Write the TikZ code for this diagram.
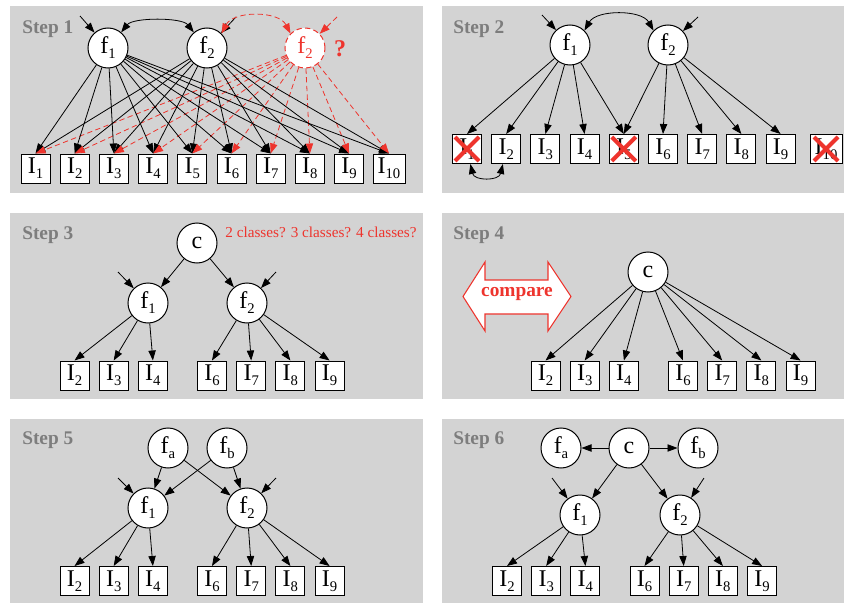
\documentclass[tikz,border=0pt]{standalone}
\usepackage{fontspec}
\setmainfont{Liberation Serif}
\usetikzlibrary{arrows.meta}

\definecolor{panelgray}{RGB}{211,211,211}
\definecolor{stepgray}{RGB}{125,125,125}
\definecolor{markred}{RGB}{238,52,45}

\newcommand{\labfont}{\fontsize{18}{18}\selectfont}
\newcommand{\lowix}[1]{\raisebox{-0.45ex}{\fontsize{11}{11}\selectfont #1}}

\begin{document}
\begin{tikzpicture}[x=0.75pt,y=0.75pt,yscale=-1,xscale=1,
	panel/.style={fill=panelgray},
	steplabel/.style={anchor=west, inner sep=0pt, text=stepgray, font=\fontsize{14.5}{15}\selectfont\bfseries},
	latent/.style={circle, draw, fill=white, line width=0.75pt, minimum size=30pt, inner sep=0pt, font=\labfont},
	ghost/.style={latent, draw=markred, dash pattern=on 4pt off 2.5pt, text=markred},
	item/.style={rectangle, draw, fill=white, line width=0.75pt, minimum size=21.75pt, inner sep=1pt, font=\labfont},
	edge/.style={-{Triangle[length=7.5pt,width=5.5pt]}, line width=0.6pt},
	redge/.style={edge, color=markred, dash pattern=on 4pt off 2.5pt},
	twoway/.style={{Triangle[length=7.5pt,width=5.5pt]}-{Triangle[length=7.5pt,width=5.5pt]}, line width=0.6pt},
	rtwoway/.style={twoway, color=markred, dash pattern=on 4pt off 2.5pt},
	cross/.style={markred, line width=3pt}]
	
	\useasboundingbox (0,0) rectangle (844,603);
	
	%Shape: Step 1 panel
	\fill[panel] (10,6) rectangle (423,193);
	% Text Node
	\node[steplabel] (st1) at (22,29) {Step 1};
	\node[latent] (s1f1) at (108,48) {f\lowix{1}};
	\node[latent] (s1f2) at (207,48) {f\lowix{2}};
	\node[ghost] (s1g) at (305,48) {f\lowix{2}};
	\node[text=markred, font=\fontsize{18}{18}\selectfont\bfseries] (s1q) at (340,49) {?};
	\foreach \k/\xx in {1/35.5,2/74.7,3/113.9,4/153.1,5/192.3,6/231.5,7/270.7,8/309.9,9/349.1}
		\node[item] (s1i\k) at (\xx,168.5) {I\lowix{\k}};
	\node[item, minimum width=24pt] (s1i10) at (389,168.5) {I\lowix{10}};
	\coordinate (s1e1) at (80,16);
	\coordinate (s1e2) at (236,17);
	\coordinate (s1e3) at (337,17);
	%Straight Lines
	\draw[edge] (s1e1) -- (s1f1);
	\draw[edge] (s1e2) -- (s1f2);
	\draw[redge] (s1e3) -- (s1g);
	\draw[twoway] (s1f1.50) .. controls +(12,-15) and +(-12,-15) .. (s1f2.130);
	\draw[rtwoway] (s1f2.45) .. controls +(12,-23) and +(-12,-23) .. (s1g.135);
	\foreach \k in {1,...,10} {
		\draw[edge] (s1f1) -- (s1i\k.north);
		\draw[edge] (s1f2) -- (s1i\k.north);
		\draw[redge] (s1g) -- (s1i\k.north);
	}
	
	%Shape: Step 2 panel
	\fill[panel] (442,6) rectangle (844,193);
	% Text Node
	\node[steplabel] (st2) at (453,29) {Step 2};
	\node[latent] (s2f1) at (570,45) {f\lowix{1}};
	\node[latent] (s2f2) at (668,45) {f\lowix{2}};
	\foreach \k/\xx in {1/467,2/506.2,3/545.4,4/584.6,5/623.8,6/663,7/702.2,8/741.4,9/780.6}
		\node[item] (s2i\k) at (\xx,149) {I\lowix{\k}};
	\node[item, minimum width=24pt] (s2i10) at (826,149) {I\lowix{10}};
	\coordinate (s2e1) at (542,15);
	\coordinate (s2e2) at (698,17);
	%Straight Lines
	\draw[edge] (s2e1) -- (s2f1);
	\draw[edge] (s2e2) -- (s2f2);
	\draw[twoway] (s2f1.45) .. controls +(12,-21) and +(-12,-21) .. (s2f2.135);
	\foreach \k in {1,...,5}
		\draw[edge] (s2f1) -- (s2i\k.north);
	\foreach \k in {5,...,9}
		\draw[edge] (s2f2) -- (s2i\k.north);
	\draw[twoway] ([xshift=2.5pt]s2i1.south) .. controls +(4,17) and +(-4,17) .. ([xshift=-2.5pt]s2i2.south);
	% dropped items
	\foreach \n in {1,5,10} {
		\draw[cross] ([shift={(-12,-12)}]s2i\n.center) -- ([shift={(12,12)}]s2i\n.center);
		\draw[cross] ([shift={(-12,12)}]s2i\n.center) -- ([shift={(12,-12)}]s2i\n.center);
	}
	
	%Shape: Step 3 panel
	\fill[panel] (10,213) rectangle (423,399);
	% Text Node
	\node[steplabel] (st3) at (22,235) {Step 3};
	\node[latent] (s3c) at (197,243) {c};
	\node[latent] (s3f1) at (148,303) {f\lowix{1}};
	\node[latent] (s3f2) at (247,303) {f\lowix{2}};
	\node[text=markred, font=\fontsize{11.4}{12}\selectfont] (s3note) at (321,232) {2 classes? 3 classes? 4 classes?};
	\foreach \k/\xx in {2/74.5,3/113.7,4/152.9,6/212,7/251.2,8/290.4,9/329.6}
		\node[item] (s3i\k) at (\xx,375.5) {I\lowix{\k}};
	\coordinate (s3e1) at (118,272);
	\coordinate (s3e2) at (276,272);
	%Straight Lines
	\draw[edge] (s3e1) -- (s3f1);
	\draw[edge] (s3e2) -- (s3f2);
	\draw[edge] (s3c) -- (s3f1);
	\draw[edge] (s3c) -- (s3f2);
	\foreach \k in {2,3,4}
		\draw[edge] (s3f1) -- (s3i\k.north);
	\foreach \k in {6,...,9}
		\draw[edge] (s3f2) -- (s3i\k.north);
	
	%Shape: Step 4 panel
	\fill[panel] (442,213) rectangle (844,399);
	% Text Node
	\node[steplabel] (st4) at (453,235) {Step 4};
	\node[latent] (s4c) at (648,272) {c};
	\foreach \k/\xx in {2/545.5,3/584.7,4/623.9,6/683,7/722.2,8/761.4,9/800.6}
		\node[item] (s4i\k) at (\xx,375.5) {I\lowix{\k}};
	%Shape: double arrow
	\draw[markred, fill=white, line width=0.8pt] (463,296.5) -- (485,262) -- (485,280) -- (548,280) -- (548,262) -- (571,296.5) -- (548,331) -- (548,314) -- (485,314) -- (485,331) -- cycle;
	\node[text=markred, font=\fontsize{14.5}{15}\selectfont\bfseries] (s4cmp) at (517,294) {compare};
	%Straight Lines
	\foreach \k in {2,3,4,6,7,8,9}
		\draw[edge] (s4c) -- (s4i\k.north);
	
	%Shape: Step 5 panel
	\fill[panel] (10,419) rectangle (423,603);
	% Text Node
	\node[steplabel] (st5) at (22,440) {Step 5};
	\node[latent] (s5fa) at (168,448) {f\lowix{a}};
	\node[latent] (s5fb) at (227,448) {f\lowix{b}};
	\node[latent] (s5f1) at (148,508) {f\lowix{1}};
	\node[latent] (s5f2) at (247,508) {f\lowix{2}};
	\foreach \k/\xx in {2/74.5,3/113.7,4/152.9,6/212,7/251.2,8/290.4,9/329.6}
		\node[item] (s5i\k) at (\xx,581) {I\lowix{\k}};
	\coordinate (s5e1) at (118,478);
	\coordinate (s5e2) at (276,478);
	%Straight Lines
	\draw[edge] (s5e1) -- (s5f1);
	\draw[edge] (s5e2) -- (s5f2);
	\draw[edge] (s5fa) -- (s5f1);
	\draw[edge] (s5fa) -- (s5f2);
	\draw[edge] (s5fb) -- (s5f1);
	\draw[edge] (s5fb) -- (s5f2);
	\foreach \k in {2,3,4}
		\draw[edge] (s5f1) -- (s5i\k.north);
	\foreach \k in {6,...,9}
		\draw[edge] (s5f2) -- (s5i\k.north);
	
	%Shape: Step 6 panel
	\fill[panel] (442,419) rectangle (844,603);
	% Text Node
	\node[steplabel] (st6) at (453,440) {Step 6};
	\node[latent] (s6fa) at (561,448) {f\lowix{a}};
	\node[latent] (s6c) at (629,448) {c};
	\node[latent] (s6fb) at (698,448) {f\lowix{b}};
	\node[latent] (s6f1) at (580,515) {f\lowix{1}};
	\node[latent] (s6f2) at (680,515) {f\lowix{2}};
	\foreach \k/\xx in {2/507,3/546.2,4/585.4,6/644.5,7/683.7,8/722.9,9/762.1}
		\node[item] (s6i\k) at (\xx,581) {I\lowix{\k}};
	\coordinate (s6e1) at (552,478);
	\coordinate (s6e2) at (704,478);
	%Straight Lines
	\draw[edge] (s6e1) -- (s6f1);
	\draw[edge] (s6e2) -- (s6f2);
	\draw[edge] (s6c) -- (s6fa);
	\draw[edge] (s6c) -- (s6fb);
	\draw[edge] (s6c) -- (s6f1);
	\draw[edge] (s6c) -- (s6f2);
	\foreach \k in {2,3,4}
		\draw[edge] (s6f1) -- (s6i\k.north);
	\foreach \k in {6,...,9}
		\draw[edge] (s6f2) -- (s6i\k.north);
	
\end{tikzpicture}
\end{document}
